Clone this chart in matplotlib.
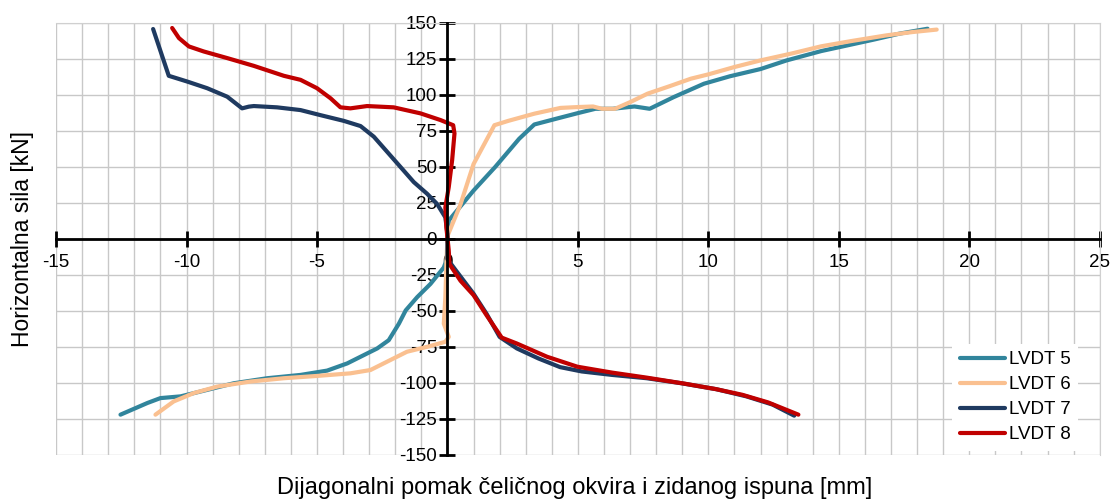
# coding=utf-8
import numpy as np
import matplotlib
matplotlib.use('Agg')
import matplotlib.pyplot as plt
from matplotlib.ticker import MultipleLocator

# LVDT 5
x5 = [18.4, 17.33, 16.33, 15.17, 14.33, 13.0, 12.0, 10.83, 9.83, 8.67, 7.75, 7.17, 6.33, 5.67, 5.0,
      4.17, 3.33, 2.75, 1.83, 1.0, 0.05, 0.0, 0.0, -0.14, -0.65, -1.16, -1.6, -1.86, -2.25, -2.69,
      -3.2, -3.84, -4.61, -5.63, -6.91, -8.19, -9.21, -10.23, -11.0, -11.5, -12.53]
y5 = [146, 142.6, 138.4, 133.8, 130.5, 124, 118, 113, 107.8, 98.5, 90.4, 92, 90.4, 90.4, 87.4,
      83.5, 79.5, 69.6, 50, 33.6, 12.8, 0, -12.9, -19.8, -31.2, -40.4, -49.6, -58.8, -70.3, -76,
      -80.6, -86.4, -91.4, -94.4, -96.7, -100.2, -104.8, -109.3, -110.5, -113.9, -122]

# LVDT 6
x6 = [18.75, 17.83, 16.83, 15.5, 14.33, 13.17, 12.0, 11.0, 10.0, 9.33, 8.5, 7.67, 7.0, 6.42, 5.92,
      5.58, 5.0, 4.33, 3.33, 2.33, 1.8, 1.0, 0.5, 0.0, -0.04, -0.08, -0.14, 0.05, -0.08, -0.78,
      -1.55, -2.18, -2.95, -3.72, -4.99, -6.27, -7.55, -8.82, -9.72, -10.49, -11.19]
y6 = [145.4, 143.7, 141.4, 137.5, 133.8, 128.7, 124, 119.4, 114.3, 111.3, 106, 100.9, 95, 90.4, 90.4,
      92, 91.6, 91, 87, 82, 79, 52, 24, 2, -17.5, -40.4, -58.8, -68, -71.4, -74.9,
      -78.3, -84, -91, -93.3, -95.1, -96.7, -99, -102.5, -107, -112.8, -122]

# LVDT 7
x7 = [-11.28, -10.68, -9.97, -9.21, -8.44, -7.87, -7.61, -7.42, -6.53, -5.63, -4.87, -3.97, -3.33,
      -2.82, -2.31, -1.8, -1.29, -0.78, -0.4, -0.08, 0.0, 0.0, 0.33, 1.0, 1.5, 2.0, 2.66, 3.49,
      4.32, 5.15, 6.31, 7.64, 8.97, 10.3, 11.46, 12.46, 13.29]
y7 = [145.8, 113.3, 109.3, 104.7, 98.8, 90.7, 91.9, 92.3, 91.4, 89.5, 86, 82, 78.4,
      71, 60.5, 50, 39.5, 31.4, 24.4, 15, 3.5, -14, -22, -38, -52, -68, -76, -83,
      -89, -92, -94.4, -96.7, -100.2, -104.3, -109.3, -115, -122.7]

# LVDT 8
x8 = [-10.55, -10.29, -9.91, -9.34, -8.44, -7.42, -6.27, -5.63, -5.0, -4.48, -4.1, -3.72, -3.08,
      -2.06, -1.03, -0.27, 0.22, 0.27, 0.18, 0.05, -0.08, -0.04, 0.05, 0.08, 0.5, 1.0, 1.5, 2.08,
      2.66, 3.82, 4.98, 6.31, 7.64, 9.13, 10.3, 11.3, 12.29, 13.45]
y8 = [146.5, 139.5, 133.7, 130.2, 125.6, 120.2, 113.3, 110.5, 104.7, 97.7, 91.4, 90.7, 92.3,
      91.4, 87.2, 82.6, 79, 73.3, 54.7, 36, 22, 8, -8, -17.5, -29, -39, -53, -68.5,
      -72.6, -81.8, -88.7, -92.8, -96.3, -100.6, -104.3, -108.2, -113.5, -122]

labels = ['LVDT 5', 'LVDT 6', 'LVDT 7', 'LVDT 8']
colors = ['#31859C', '#FAC090', '#1F3A60', '#C00000']

plt.rcParams['font.family'] = ['Liberation Sans Narrow', 'Liberation Sans', 'DejaVu Sans']
plt.rcParams['axes.unicode_minus'] = False

fig = plt.figure(figsize=(11.12, 4.99), dpi=100)
ax = fig.add_axes([0.0504, 0.0882, 0.9386, 0.8658])

for xs, ys, lab, c in zip([x5, x6, x7, x8], [y5, y6, y7, y8], labels, colors):
    ax.plot(xs, ys, color=c, lw=3, label=lab, solid_capstyle='round', solid_joinstyle='round')

ax.set_xlim(-15, 25)
ax.set_ylim(-150, 150)
ax.xaxis.set_major_locator(MultipleLocator(5))
ax.xaxis.set_minor_locator(MultipleLocator(1))
ax.yaxis.set_major_locator(MultipleLocator(25))

ax.grid(True, which='both', axis='x', color='#c8c8c8', lw=1)
ax.grid(True, which='major', axis='y', color='#c8c8c8', lw=1)
ax.set_axisbelow(True)

ax.spines['left'].set_position(('data', 0))
ax.spines['bottom'].set_position(('data', 0))
ax.spines['right'].set_color('#d0d0d0')
ax.spines['top'].set_color('#d0d0d0')
ax.spines['left'].set_linewidth(2)
ax.spines['bottom'].set_linewidth(2)
ax.spines['left'].set_zorder(3)
ax.spines['bottom'].set_zorder(3)

ax.tick_params(which='major', direction='inout', length=11, width=2, labelsize=13.5)
ax.tick_params(which='minor', length=0)
ax.tick_params(axis='x', pad=5)
ax.tick_params(axis='y', pad=2)

ax.set_xlabel('Dijagonalni pomak čeličnog okvira i zidanog ispuna [mm]', fontsize=17)
ax.set_ylabel('Horizontalna sila [kN]', fontsize=16.5)
ax.xaxis.set_label_coords(0.497, -0.05)
ax.yaxis.set_label_coords(-0.021, 0.5)

leg = ax.legend(loc='lower right', bbox_to_anchor=(0.988, -0.012), frameon=True, fancybox=False,
                edgecolor='none', facecolor='white', framealpha=1, fontsize=13.5,
                handlelength=2.4, handletextpad=0.2, labelspacing=0.42)

plt.savefig('out.png', dpi=100)
